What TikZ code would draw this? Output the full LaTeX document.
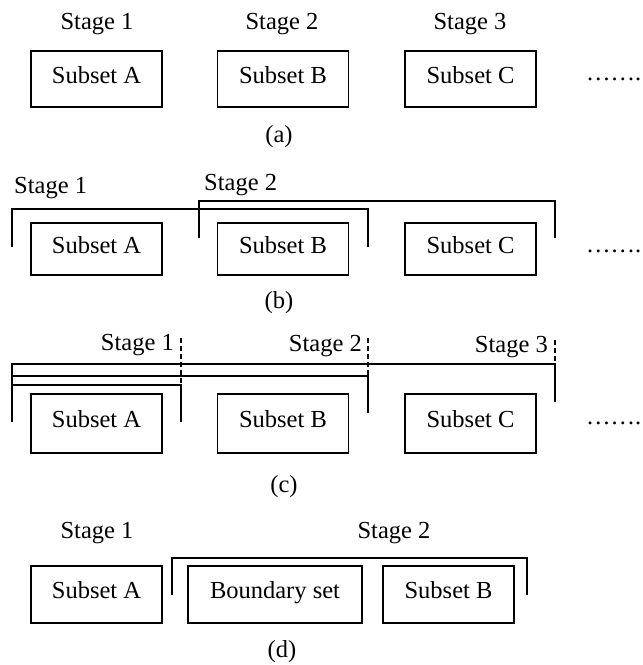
\documentclass[tikz,border=0pt]{standalone}
\usepackage{fontspec}
\setmainfont{Liberation Serif}
\begin{document}
\begin{tikzpicture}[x=1pt,y=-1pt,
  every node/.style={font=\fontsize{24.5}{28}\selectfont, inner sep=0pt},
  subsetbox/.style={draw, line width=1.1pt, minimum width=131pt,
    text height=14pt, text depth=6pt},
  bracketline/.style={line width=1.1pt},
  stagemark/.style={line width=1.1pt, dash pattern=on 5pt off 3pt},
  stagelabel/.style={anchor=base},
  caption/.style={anchor=center},
  moredots/.style={anchor=base west}]
\useasboundingbox (0,0) rectangle (643,665);

% ---------- (a): one stage per subset ----------
\node[stagelabel] (a-s1) at (97,29) {Stage 1};
\node[stagelabel] (a-s2) at (282,29) {Stage 2};
\node[stagelabel] (a-s3) at (470,29) {Stage 3};
\node[subsetbox, minimum height=56pt] (a-A) at (96.5,79) {Subset A};
\node[subsetbox, minimum height=56pt] (a-B) at (283,79) {Subset B};
\node[subsetbox, minimum height=56pt] (a-C) at (470.5,79) {Subset C};
\node[moredots] (a-dots) at (586,80) {…….};
\node[caption] (a-cap) at (279,137) {(a)};

% ---------- (b): overlapping stages ----------
\node[stagelabel, anchor=base west] (b-s1) at (14,193) {Stage 1};
\node[stagelabel, anchor=base west] (b-s2) at (204,190) {Stage 2};
\draw[bracketline] (12,247) -- (12,209) -- (368,209) -- (368,247);
\draw[bracketline] (199,238) -- (199,201) -- (555,201) -- (555,238);
\node[subsetbox, minimum height=52pt] (b-A) at (96.5,249) {Subset A};
\node[subsetbox, minimum height=52pt] (b-B) at (283,249) {Subset B};
\node[subsetbox, minimum height=52pt] (b-C) at (470.5,249) {Subset C};
\node[moredots] (b-dots) at (586,252) {…….};
\node[caption] (b-cap) at (279,303) {(b)};

% ---------- (c): growing stages ----------
\node[stagelabel, anchor=base east] (c-s1) at (174,350) {Stage 1};
\node[stagelabel, anchor=base east] (c-s2) at (362,351) {Stage 2};
\node[stagelabel, anchor=base east] (c-s3) at (548,352) {Stage 3};
% stage ends marked above the brackets
\draw[stagemark] (181,338) -- (181,385);
\draw[stagemark] (368,338) -- (368,376);
\draw[stagemark] (555,340) -- (555,364);
% nested brackets sharing the left edge
\draw[bracketline] (12,422) -- (12,364) -- (555,364) -- (555,402);
\draw[bracketline] (12,376) -- (368,376) -- (368,413);
\draw[bracketline] (12,385) -- (181,385) -- (181,422);
\node[subsetbox, minimum height=59pt] (c-A) at (96.5,423.5) {Subset A};
\node[subsetbox, minimum height=59pt] (c-B) at (283,423.5) {Subset B};
\node[subsetbox, minimum height=59pt] (c-C) at (470.5,423.5) {Subset C};
\node[moredots] (c-dots) at (586,424) {…….};
\node[caption] (c-cap) at (284,487) {(c)};

% ---------- (d): boundary set joins the next stage ----------
\node[stagelabel] (d-s1) at (97,538) {Stage 1};
\node[stagelabel] (d-s2) at (394,538) {Stage 2};
\draw[bracketline] (172,595) -- (172,558) -- (527,558) -- (527,595);
\node[subsetbox, minimum height=57pt] (d-A) at (96.5,594.5) {Subset A};
\node[subsetbox, minimum height=57pt, minimum width=174pt] (d-BS) at (275,594.5) {Boundary set};
\node[subsetbox, minimum height=57pt] (d-B) at (448.5,594.5) {Subset B};
\node[caption] (d-cap) at (282,652) {(d)};
\end{tikzpicture}
\end{document}
